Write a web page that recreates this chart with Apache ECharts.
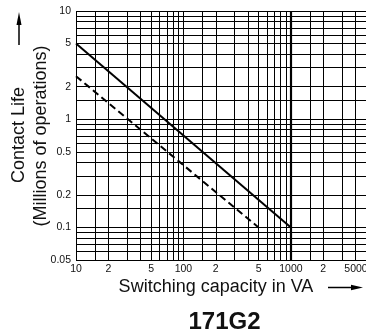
<!DOCTYPE html>
<html>
<head>
<meta charset="utf-8">
<script src="https://cdn.jsdelivr.net/npm/echarts@6/dist/echarts.min.js"></script>
<style>
html,body{margin:0;padding:0;background:#fff;}
#c{width:366px;height:335px;}
</style>
</head>
<body>
<div id="c"></div>
<script>
// ---- data ----
var solidLine = [[10, 5], [1000, 0.1]];
var dashedLine = [[10, 2.5], [500, 0.1]];

var xGrid = [10,15,20,30,40,50,60,70,80,90,100,150,200,300,400,500,600,700,800,900,1000,1500,2000,3000,4000,5000];
var yGrid = [0.05,0.06,0.07,0.08,0.09,0.1,0.15,0.2,0.3,0.4,0.5,0.6,0.7,0.8,0.9,1,1.5,2,3,4,5,6,7,8,9,10];
var xTicks = [10,20,50,100,200,500,1000,2000,5000];
var xTickLabels = ['10','2','5','100','2','5','1000','2','5000'];
var yTicks = [0.05,0.1,0.2,0.5,1,2,5,10];
var yTickLabels = ['0.05','0.1','0.2','0.5','1','2','5','10'];
var boldX = [1000];

var xName = 'Switching capacity in VA';
var yName1 = 'Contact Life';
var yName2 = '(Millions of operations)';
var title = '171G2';

// ---- build ----
var FONT = '"Liberation Sans", Arial, Helvetica, sans-serif';
var chart = echarts.init(document.getElementById('c'), null, {renderer: 'canvas'});

var ml = [];
xGrid.forEach(function (v) {
  var idx = xTicks.indexOf(v);
  var item = {xAxis: v, lineStyle: {width: boldX.indexOf(v) >= 0 ? 2.2 : 1}};
  if (idx >= 0) {
    item.label = {show: true, position: 'start', formatter: xTickLabels[idx], distance: 4,
      fontSize: 10.5, color: '#111', fontFamily: FONT};
    if (v === 5000) item.label.offset = [-10, 0];
  } else {
    item.label = {show: false};
  }
  ml.push(item);
});
yGrid.forEach(function (v) {
  var idx = yTicks.indexOf(v);
  var item = {yAxis: v, lineStyle: {width: 1}};
  if (idx >= 0) {
    item.label = {show: true, position: 'start', formatter: yTickLabels[idx], distance: 5,
      fontSize: 10.5, color: '#111', fontFamily: FONT};
  } else {
    item.label = {show: false};
  }
  ml.push(item);
});

var option = {
  animation: false,
  backgroundColor: '#fff',
  grid: {left: 76, top: 11, width: 290, height: 249, containLabel: false},
  xAxis: {type: 'log', logBase: 10, min: 10, max: 5000,
    axisLine: {show: false}, axisTick: {show: false}, axisLabel: {show: false}, splitLine: {show: false}},
  yAxis: {type: 'log', logBase: 10, min: 0.05, max: 10,
    axisLine: {show: false}, axisTick: {show: false}, axisLabel: {show: false}, splitLine: {show: false}},
  series: [
    {type: 'line', data: solidLine, symbol: 'none', silent: true,
      lineStyle: {color: '#000', width: 2}, z: 5,
      markLine: {silent: true, symbol: ['none', 'none'], animation: false,
        lineStyle: {color: '#000', type: 'solid', width: 1}, data: ml, z: 2}},
    {type: 'line', data: dashedLine, symbol: 'none', silent: true,
      lineStyle: {color: '#000', width: 2, type: [7, 4]}, z: 5}
  ],
  graphic: [
    {type: 'text', x: 19, y: 135, rotation: Math.PI / 2,
      style: {text: yName1, font: '18px ' + FONT, fill: '#111', align: 'center', verticalAlign: 'middle'}},
    {type: 'text', x: 41, y: 136, rotation: Math.PI / 2,
      style: {text: yName2, font: '18px ' + FONT, fill: '#111', align: 'center', verticalAlign: 'middle'}},
    {type: 'line', shape: {x1: 19, y1: 45, x2: 19, y2: 22}, style: {stroke: '#000', lineWidth: 1.5}},
    {type: 'polygon', shape: {points: [[19, 12], [16.5, 25], [21.5, 25]]}, style: {fill: '#000'}},
    {type: 'text', x: 216, y: 287,
      style: {text: xName, font: '18px ' + FONT, fill: '#111', align: 'center', verticalAlign: 'middle'}},
    {type: 'line', shape: {x1: 328, y1: 287.5, x2: 354, y2: 287.5}, style: {stroke: '#000', lineWidth: 1.5}},
    {type: 'polygon', shape: {points: [[363, 287.5], [351, 284.8], [351, 290.2]]}, style: {fill: '#000'}},
    {type: 'text', x: 224.5, y: 322,
      style: {text: title, font: 'bold 24px ' + FONT, fill: '#111', align: 'center', verticalAlign: 'middle'}}
  ]
};
chart.setOption(option);
</script>
</body>
</html>
